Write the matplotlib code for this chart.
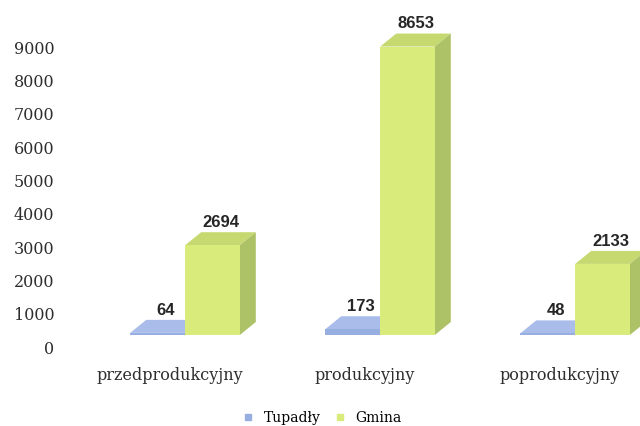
import numpy as np
import matplotlib.pyplot as plt
from matplotlib.patches import Polygon
from matplotlib.lines import Line2D

# data
categories = ['przedprodukcyjny', 'produkcyjny', 'poprodukcyjny']
tupadly = [64, 173, 48]
gmina = [2694, 8653, 2133]
series_names = ['Tupadły', 'Gmina']

# look of the fake 3d columns
FLOOR = 360          # floor lift of the front faces
DX, DY = 0.082, 390  # depth offset of top / side faces
W = 0.28
front_cols = ['#97aee0', '#d9eb7a']
top_cols = ['#aabdea', '#c5d970']
side_cols = ['#8aa0d4', '#adc266']

fig = plt.figure(figsize=(6.4, 4.26), dpi=100)
ax = fig.add_axes([60/640, 66/426, 580/640, 350/426])

x = np.arange(len(categories))
offsets = [-0.064, 0.218]

for s, vals in enumerate([tupadly, gmina]):
    xs = x + offsets[s]
    ax.bar(xs, vals, width=W, bottom=FLOOR, color=front_cols[s],
           edgecolor='none', zorder=3)
    for xc, v in zip(xs, vals):
        x0, x1 = xc - W/2, xc + W/2
        top = FLOOR + v
        ax.add_patch(Polygon([(x0, top), (x1, top), (x1 + DX, top + DY),
                              (x0 + DX, top + DY)], closed=True,
                             facecolor=top_cols[s], edgecolor='none', zorder=2))
        ax.add_patch(Polygon([(x1, FLOOR), (x1 + DX, FLOOR + DY),
                              (x1 + DX, top + DY), (x1, top)], closed=True,
                             facecolor=side_cols[s], edgecolor='none', zorder=2))
        ax.annotate(str(v), (xc + DX/2, top + DY), xytext=(0, 1.5),
                    textcoords='offset points', ha='center', va='bottom',
                    fontsize=12, fontweight='bold', family='Liberation Sans',
                    color='#262626', annotation_clip=False)

ax.set_xlim(-110/195, 470/195)
ax.set_ylim(-390, 10110)
ax.set_yticks(range(0, 10000, 1000))
ax.set_yticklabels([str(v) for v in range(0, 10000, 1000)],
                   family='DejaVu Serif', fontsize=11.5, color='#2e2e2e')
ax.set_xticks(x)
ax.set_xticklabels(categories, family='DejaVu Serif', fontsize=11.5,
                   color='#2e2e2e')
ax.tick_params(length=0)
ax.tick_params(axis='x', pad=5)
ax.tick_params(axis='y', pad=4)
for sp in ax.spines.values():
    sp.set_visible(False)

handles = [Line2D([], [], marker='s', linestyle='none', markersize=5,
                  color=c) for c in front_cols]
fig.legend(handles, series_names, loc='center', bbox_to_anchor=(318/640, 1 - 418/426),
           ncol=2, frameon=False, prop={'family': 'DejaVu Serif', 'size': 10},
           handletextpad=0.1, columnspacing=0.4)

fig.savefig('out.png', dpi=100)
